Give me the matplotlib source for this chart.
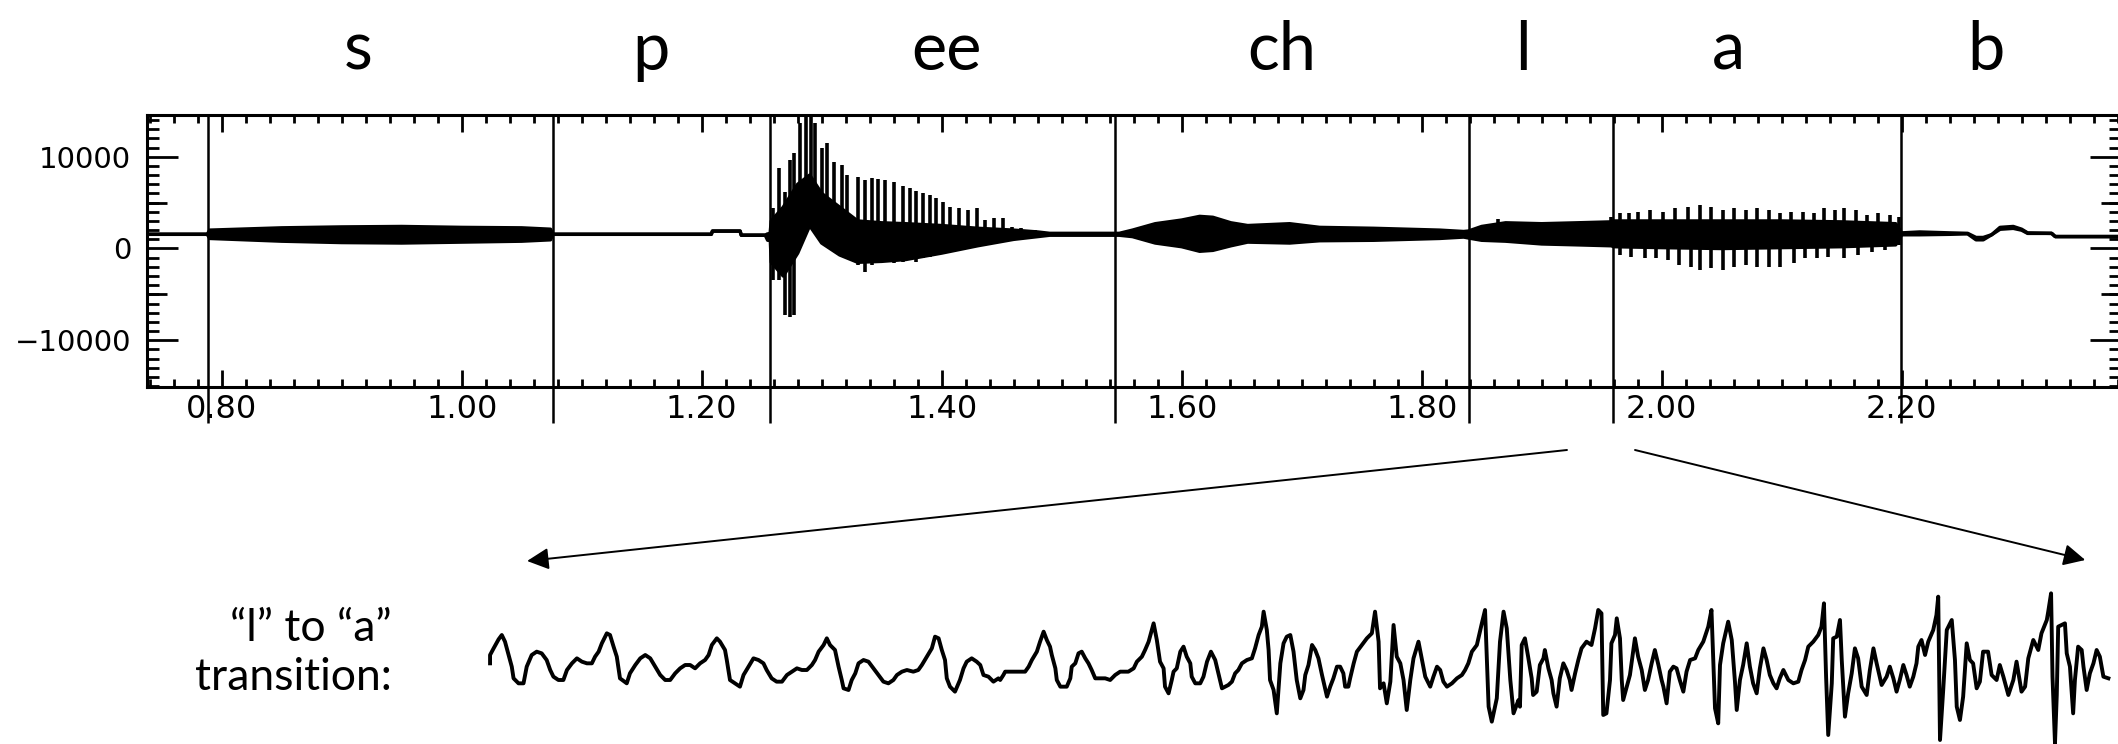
import matplotlib
matplotlib.use('Agg')
import matplotlib.pyplot as plt
from matplotlib.ticker import MultipleLocator, FuncFormatter, FormatStrFormatter
from matplotlib.transforms import blended_transform_factory
from matplotlib.patches import ConnectionPatch

# sound labels along the top and the time (s) each one sits over
seg_labels = ['s', 'p', 'ee', 'ch', 'l', 'a', 'b']
seg_label_t = [0.914, 1.158, 1.404, 1.683, 1.884, 2.056, 2.270]
# segment boundaries (s)
seg_bounds = [0.7888, 1.0761, 1.2568, 1.5443, 1.8391, 1.9593, 2.1998]

# DC level of the recording
baseline = 1550

# waveform envelope (time, upper, lower)
env_t = [0.7375, 0.7880, 0.7900, 0.8500, 0.9000, 0.9500, 1.0000, 1.0500, 1.0740, 1.0760,
         1.2080, 1.2090, 1.2320, 1.2330, 1.2530, 1.2550, 1.2570, 1.2580, 1.2680, 1.2800,
         1.2900, 1.3000, 1.3150, 1.3300, 1.3500, 1.3700, 1.4000, 1.4300, 1.4600, 1.4800,
         1.4900, 1.5440, 1.5480, 1.5590, 1.5780, 1.6000, 1.6150, 1.6260, 1.6410, 1.6550,
         1.6900, 1.7150, 1.7600, 1.8150, 1.8350, 1.8390, 1.8500, 1.8700, 1.9000, 1.9300,
         1.9580, 1.9600, 2.0000, 2.0500, 2.1000, 2.1500, 2.1950, 2.2000, 2.2150, 2.2400,
         2.2550, 2.2620, 2.2680, 2.2750, 2.2820, 2.2930, 2.3000, 2.3050, 2.3250, 2.3280,
         2.3828]
env_hi = [1550, 1550, 2000, 2250, 2350, 2400, 2300, 2250, 2100, 1550,
          1550, 1900, 1900, 1450, 1450, 1600, 1550, 3000, 4500, 7000,
          8000, 6000, 4500, 3000, 2800, 2700, 2500, 2200, 2000, 1800,
          1650, 1650, 1650, 2000, 2700, 3100, 3500, 3400, 2800, 2500,
          2700, 2300, 2200, 2000, 1850, 1900, 2400, 2800, 2700, 2800,
          2900, 3000, 3000, 3000, 3000, 2900, 2700, 1700, 1800, 1700,
          1650, 1200, 1200, 1500, 2300, 2400, 2100, 1700, 1650, 1300,
          1300]
env_lo = [1550, 1550, 1100, 800, 650, 600, 700, 800, 950, 1550,
          1550, 1900, 1900, 1450, 1450, 900, 1550, -1500, -3000, -500,
          2500, 600, -700, -1500, -1400, -1200, -500, 300, 1000, 1300,
          1450, 1450, 1450, 1300, 600, 200, -300, -200, 300, 700,
          600, 850, 900, 1100, 1250, 1150, 900, 800, 500, 400,
          300, 200, 100, 0, 100, 200, 400, 1500, 1500, 1550,
          1600, 950, 950, 1500, 2100, 2200, 2000, 1650, 1650, 1300,
          1300]

# pitch pulses in "ee"
ee_t = [1.2598, 1.2646, 1.2691, 1.2736, 1.2773, 1.2821, 1.2870, 1.2907, 1.2944, 1.3000,
        1.3044, 1.3100, 1.3167, 1.3212, 1.3305, 1.3361, 1.3416, 1.3472, 1.3528, 1.3602,
        1.3677, 1.3733, 1.3788, 1.3844, 1.3900, 1.3956, 1.4012, 1.4067, 1.4142, 1.4216,
        1.4291, 1.4365, 1.4439, 1.4514, 1.4588, 1.4663, 1.4774]
ee_top = [4380, 8750, 6200, 9650, 10380, 13650, 14380, 14380, 13650, 10930,
          11540, 9470, 9110, 8020, 7840, 7470, 7660, 7580, 7470, 7290,
          6820, 6560, 6310, 6020, 5840, 5470, 5110, 4560, 4380, 4200,
          4380, 3110, 3290, 3290, 2380, 2200, 2020]
ee_bot = [-3440, -3440, -7250, -7440, -7250, 1840, 2380, 4930, 2020, 2200,
          560, 560, -890, -890, -1800, -2530, -1800, -1620, -1440, -1620,
          -1440, -1250, -1440, -1070, -890, -710, -530, -350, -160, 20,
          200, 560, 930, 1110, 1220, 1290, 1360]

# pitch pulses in "l" and "a"
la_up_t = [1.8639, 1.8735, 1.8849, 1.8964, 1.9040, 1.9136, 1.9231, 1.9326, 1.9422, 1.9517,
           1.9574, 1.9651, 1.9727, 1.9803, 1.9899, 2.0013, 2.0109, 2.0223, 2.0318, 2.0414,
           2.0509, 2.0605, 2.0700, 2.0796, 2.0891, 2.0986, 2.1082, 2.1177, 2.1273, 2.1349,
           2.1444, 2.1521, 2.1616, 2.1711, 2.1807, 2.1902, 2.1978]
la_up_v = [3180, 2560, 2450, 2670, 2820, 2450, 2670, 2310, 2560, 2820,
           3470, 3840, 3840, 4020, 4200, 4020, 4380, 4560, 4750, 4560,
           4200, 4380, 4200, 4380, 4200, 3840, 4020, 4020, 3840, 4380,
           4200, 4380, 4200, 3650, 3840, 3650, 3470]
la_dn_t = [1.9651, 1.9746, 1.9861, 1.9956, 2.0051, 2.0147, 2.0242, 2.0318, 2.0414, 2.0509,
           2.0605, 2.0700, 2.0796, 2.0891, 2.0986, 2.1101, 2.1197, 2.1292, 2.1387, 2.1521,
           2.1635, 2.1750, 2.1864, 2.1978]
la_dn_v = [-710, -890, -1070, -1070, -1250, -1800, -1980, -2350, -2160, -2350,
           -1980, -1800, -1980, -1980, -1980, -1620, -1070, -1070, -890, -1070,
           -710, -350, -160, 380]

# zoomed "l" -> "a" transition (sample number, amplitude)
zoom_n = [1.1, 1.1, 2.1, 3.5, 4.4, 5.3, 6.3, 7.2, 7.7, 9.1, 10.5, 11.4, 12.8, 14.2, 15.6, 17.0,
          18.0, 18.9, 20.3, 21.7, 22.7, 24.1, 25.5, 26.9, 28.3, 29.7, 30.6, 31.6, 32.5, 33.9,
          34.8, 35.8, 36.7, 37.6, 39.5, 40.4, 41.9, 43.3, 44.7, 46.1, 47.5, 48.9, 50.3, 51.7,
          53.1, 54.5, 55.9, 57.3, 58.7, 60.1, 61.5, 62.5, 63.4, 64.8, 65.7, 67.1, 67.6, 68.5,
          69.9, 71.3, 72.3, 73.7, 75.1, 76.5, 77.9, 78.8, 80.2, 81.6, 83.1, 84.5, 85.9, 87.3,
          88.7, 90.1, 91.5, 92.4, 93.4, 94.8, 95.7, 96.6, 98.0, 99.0, 99.9, 100.4, 101.8, 102.7,
          103.7, 104.6, 106.0, 107.4, 108.8, 110.2, 111.6, 113.0, 114.4, 115.4, 116.8, 118.2,
          120.0, 121.4, 122.4, 123.8, 125.2, 126.1, 127.1, 128.0, 128.9, 129.4, 130.3, 131.7,
          133.1, 134.1, 135.0, 136.4, 137.8, 138.8, 139.7, 141.1, 142.5, 143.9,
          144.4, 145.3, 145.8, 148.1, 151.4, 152.4, 153.3, 154.7, 155.6, 156.6, 157.5, 158.4,
          158.9, 159.9, 160.3, 161.3, 163.1, 164.1, 164.5, 165.5, 166.4, 167.3, 168.3, 169.2,
          170.1, 171.1, 172.5, 173.9, 175.3, 176.7, 178.1, 180.4, 181.9, 182.8, 184.2, 185.1,
          186.1, 187.5, 188.4, 189.3, 190.3, 190.7, 191.7, 192.6, 193.1, 194.0, 195.0, 195.9,
          196.8, 197.8, 198.2, 199.2, 200.6, 201.5, 202.5, 203.6, 204.8, 205.7, 206.7, 208.5,
          209.5, 210.4, 211.3, 212.3, 213.7, 215.1, 216.0, 217.0, 217.9, 218.4, 219.3, 219.8,
          220.2, 221.2, 222.1, 223.1, 224.0, 224.9, 225.9, 226.8, 227.7, 228.7, 229.6, 230.1,
          231.0, 232.0, 232.9, 233.8, 234.8, 236.2, 237.1, 238.0, 239.0, 239.9, 240.8, 241.3,
          242.2, 242.7, 243.7, 244.6, 246.0, 247.4, 248.8, 249.7, 250.7, 251.1, 252.1, 253.0,
          254.0, 254.9, 255.8, 256.8, 257.7, 258.6, 259.6, 260.5, 261.9, 262.9, 263.8, 265.2,
          266.1, 267.1, 268.0, 268.9, 269.9, 271.3, 272.7, 274.1, 275.0, 275.9, 276.9, 278.3,
          279.7, 280.6, 281.6, 282.5, 283.9, 284.8, 285.8, 286.7, 287.7, 288.6, 290.0,
          290.4, 290.9, 291.8, 292.7, 293.7, 294.1, 295.1, 296.0, 297.0, 297.4, 298.4, 299.3,
          299.8, 300.7, 301.6, 302.6, 303.5, 304.4, 304.9, 305.9, 306.8, 307.7, 309.1, 310.5,
          311.5, 312.4, 313.3, 313.8, 314.7, 315.7, 316.1, 317.1, 317.6, 318.5, 319.0, 319.4,
          320.4, 321.3, 322.7, 323.6, 324.6, 325.5, 326.4, 327.4, 328.3, 329.3, 330.2, 330.7,
          331.6, 332.5, 333.5, 334.4, 335.3, 336.3, 337.2, 338.2, 339.6, 340.5, 341.9, 343.3,
          344.2, 345.2, 346.1, 346.6, 347.5, 348.9, 349.9, 350.8, 351.3, 352.2, 353.1, 354.1,
          355.0, 355.9, 356.9, 357.8, 358.8, 359.7, 360.6, 361.6, 362.5, 363.4, 364.4, 365.8,
          367.2, 368.6, 369.5, 370.5, 371.4, 372.8, 374.2, 375.1, 375.8, 376.4, 377.0, 378.0,
          378.4, 379.4, 380.3, 380.8, 381.7, 382.6, 383.6, 384.5, 385.4, 386.4, 387.8, 388.7,
          389.7, 390.6, 392.0, 393.4, 394.3, 395.3, 396.2, 397.1, 398.1, 399.0, 399.9, 400.9,
          401.8, 402.3, 403.2, 404.2, 405.1, 406.5, 407.4, 407.9, 408.4, 409.3, 410.3, 411.7,
          412.6, 413.1, 414.0, 414.9, 415.9, 416.8, 417.7, 418.7, 419.6, 420.5, 421.9, 422.9,
          424.3, 425.2, 426.2, 427.6, 429.0, 429.9, 431.3, 432.3, 433.2, 434.6,
          436.0, 436.9, 438.4, 438.8, 439.6, 440.0, 440.7, 441.2, 441.6, 443.5, 444.0, 444.9,
          445.8, 446.3, 447.2, 448.2, 448.7, 449.6, 450.5, 451.5, 452.4, 453.3, 454.3, 455.7]
zoom_amp = [50, 300, 500, 770, 900, 700, 300, -50, -400, -550, -550, -50, 300, 400, 350, 150,
            -150, -350, -450, -450, -150, 50, 200, 100, 50, 50, 250, 400, 650, 950,
            900, 550, 250, -400, -550, -250, 0, 200, 300, 200, -50, -300, -450, -450,
            -250, -100, 0, 0, -100, 50, 150, 300, 600, 800, 700, 450, 150, -450,
            -550, -650, -300, -50, 200, 150, 50, -150, -400, -500, -500, -300, -200, -100,
            -150, -150, 0, 150, 400, 600, 800, 600, 450, -50, -450, -700, -750, -450,
            -250, 50, 150, 100, -100, -300, -500, -550, -450, -300, -200, -150,
            -200, -150, 0, 250, 500, 850, 800, 450, 150, -400, -650, -800,
            -450, -100, 100, 200, 100, 0, -300, -350, -500, -400,
            -450, -300, -200, -200, -200, -50, 150, 400, 700, 1000, 750, 550,
            300, -100, -450, -650, -650, -400, -50, 50, 350, 400, 200, 50,
            -150, -400, -400, -400, -450, -300, -200, -200, -100, 100, 250, 450,
            700, 1250, 750, 100, -100, -650, -850, -450, -200, -100, 400, 550,
            250, 50, -350, -550, -550, -350, 100, 400, 150, -250, -700, -600,
            -500, -250, -150, 50, 150, 200, 500, 900, 1150, 1600, 1050, 450,
            -450, -750, -1450, 50, 650, 850, 900, 400, -450, -1000, -750, -300,
            0, 600, 450, 200, -300, -950, -650, -400, -50, -50, -250, -650,
            -650, -400, 50, 400, 600, 800, 950, 1600, 700, -700, -550, -1150,
            -500, 1200, 250, 50, -450, -1350, -450, 200, 700, 150, -350, -650,
            -350, -50, -150, -500, -650, -550, -400, -300, -150, 50, 400, 600,
            1250, 1650, -1250, -1700, -1000, 700, 1600, 1100, -450, -1450, -1050,
            -1250, 600, 800, 250, -400, -900, -800, 0, 200, 450, -100, -450,
            -850, -1250, -400, 50, -150, -450, -750, -250, 150, 500, 700, 600,
            1100, 1650, 1550, -1500, -1450, -450, 650, 900, 1400, 800, -450, -1050,
            -650, -300, 800, 250, -150, -750, -450, 50, 450, 0, -450, -650,
            -1150, -200, -50, -100, -450, -800, -200, 150, 200, 450, 700, 1150,
            1650, -1300, -1750, 0, 650, 1300, 750, -500, -1350, -450, 0, 650,
            -50, -550, -850, -100, 500, 150, -300, -550, -700, -400, -150, -450,
            -550, -500, -150, 150, 550, 700, 900, 1150, 1850, -350, -2100, -550,
            800, 850, 1350, 150, -1550, -850, -250, 500, 200, -650, -900, -150,
            500, 50, -600, -350, -50, -400, -800, -450, 0, -300, -650, -350,
            50, 550, 750, 300, 700, 1050, 1500, 2050, -2250, -750, 1050, 1350,
            150, -1250, -1650, -950, 650, 150, 50, -700, -500, 400, 400, -300,
            -450, 0, -350, -900, -450, 100, -800, -650, 200, 750,
            450, 950, 1350, 1600, 2150, -350, -2350, -900, 1150, 1250, 350, -50,
            -1450, -450, 550, 450, -50, -750, -250, 50, 450, 250, -350, -400]

W, H = 2118, 744
fig = plt.figure(figsize=(W / 100, H / 100), dpi=100)

# ---- top: full utterance ----
ax = fig.add_axes([146.7 / W, 1 - 386.7 / H, (2121 - 146.7) / W, (386.7 - 115) / H])
ax.set_xlim(0.7375, 2.3828)
ax.set_ylim(-15071, 14558)

ax.fill_between(env_t, env_lo, env_hi, color='black', lw=0)
ax.plot(env_t, env_hi, color='black', lw=2.5)
ax.plot(env_t, env_lo, color='black', lw=2.5)
ax.vlines(ee_t, ee_bot, ee_top, color='black', lw=2.6)
ax.vlines(la_up_t, baseline, la_up_v, color='black', lw=2.6)
ax.vlines(la_dn_t, baseline, la_dn_v, color='black', lw=2.6)
ax.vlines(seg_bounds, -19030, 14558, color='black', lw=1.8, clip_on=False)

for sp in ax.spines.values():
    sp.set_linewidth(2.2)

ax.xaxis.set_major_locator(MultipleLocator(0.2))
ax.xaxis.set_minor_locator(MultipleLocator(0.02))
ax.xaxis.set_major_formatter(FormatStrFormatter('%.2f'))
ax.yaxis.set_major_locator(MultipleLocator(10000))
ax.yaxis.set_minor_locator(MultipleLocator(1000))
ax.yaxis.set_major_formatter(FuncFormatter(lambda v, p: f'{v:.0f}'.replace('-', '\u2212')))

ax.tick_params(axis='x', which='major', direction='in', length=12, width=2,
               top=True, bottom=True, labelsize=23, pad=5)
ax.tick_params(axis='x', which='minor', direction='in', length=5.8, width=2,
               top=True, bottom=True)
ax.tick_params(axis='y', which='major', direction='in', length=22, width=2,
               left=True, right=True, labelsize=21, pad=11)
ax.tick_params(axis='y', which='minor', direction='in', length=8.6, width=2,
               left=True, right=True)

# medium ticks at +-5000
for side in ['left', 'right']:
    sec = ax.secondary_yaxis(side)
    sec.set_yticks([-5000, 5000])
    sec.tick_params(direction='in', length=14.4, width=2,
                    labelleft=False, labelright=False)
    sec.spines[side].set_visible(False)

lab_tr = blended_transform_factory(ax.transData, fig.transFigure)
for t, lab in zip(seg_label_t, seg_labels):
    ax.text(t, 1 - 70 / H, lab, transform=lab_tr, ha='center', va='baseline',
            fontsize=48, family='Lato')

# ---- bottom: zoomed transition ----
axb = fig.add_axes([484 / W, 0, 1 - 484 / W, (744 - 563) / H])
axb.set_xlim(-0.6, 458.4)
axb.set_ylim(-2370, 3060)
axb.plot(zoom_n, zoom_amp, color='black', lw=2.8)
axb.axis('off')

fig.text(392 / W, 1 - 653 / H, '\u201cl\u201d to \u201ca\u201d\ntransition:', ha='right',
         va='center', multialignment='right', fontsize=32, family='Lato', linespacing=1.25)

# arrows from the top panel to the zoom
arrow_style = '-|>,head_length=0.6,head_width=0.3'
for xa, xb in [((1.9211, -21974), (11.5, 3120)), ((1.9778, -21974), (449.2, 3150))]:
    con = ConnectionPatch(xyA=xa, coordsA=ax.transData, xyB=xb, coordsB=axb.transData,
                          arrowstyle=arrow_style, mutation_scale=22, lw=1.4,
                          color='black')
    fig.add_artist(con)

fig.savefig('out.png', dpi=100)
